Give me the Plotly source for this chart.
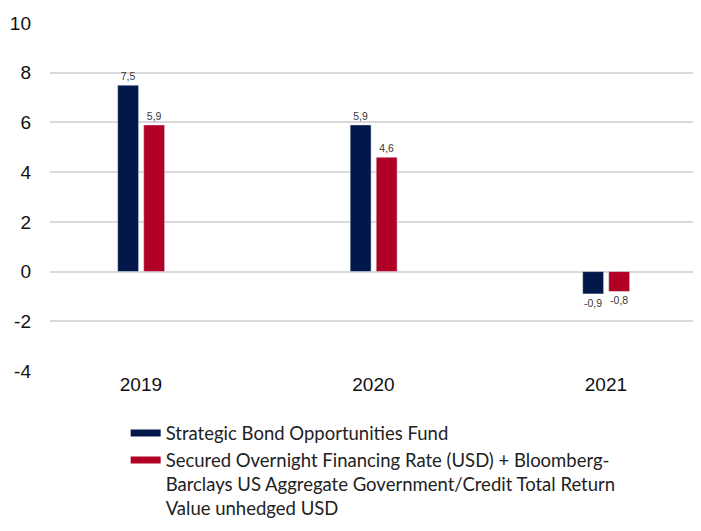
import plotly.graph_objects as go

years = ["2019", "2020", "2021"]
fund = [7.5, 5.9, -0.9]
bench = [5.9, 4.6, -0.8]
names = [
    "Strategic Bond Opportunities Fund",
    "Secured Overnight Financing Rate (USD) + Bloomberg-<br>Barclays US Aggregate Government/Credit Total Return<br>Value unhedged USD",
]
colors = ["#03184A", "#B10026"]
y_ticks = [-4, -2, 0, 2, 4, 6, 8, 10]
y_ticktext = ["-4", "-2", "0", "2", "4", "6", "8", "10"]

fig = go.Figure()
for vals, col, off in [(fund, colors[0], -0.1), (bench, colors[1], 0.012)]:
    fig.add_trace(go.Bar(
        x=years, y=vals, marker_color=col, showlegend=False,
        width=0.09, offset=off, texttemplate="%{y:.1f}", textposition="outside",
        textfont=dict(size=10.5, color="#383838", family="Liberation Sans"),
        cliponaxis=False,
    ))
# legend entries (line-shaped keys)
for nm, col in zip(names, colors):
    fig.add_trace(go.Scatter(
        x=[None], y=[None], mode="lines", name=nm,
        line=dict(color=col, width=7),
    ))

fig.update_layout(
    width=701, height=531,
    margin=dict(l=42, r=1, t=15, b=168, autoexpand=False),
    paper_bgcolor="white", plot_bgcolor="white",
    separators=",.",
    showlegend=True,
    legend=dict(
        x=0.115, xanchor="left", y=-0.125, yanchor="top",
        font=dict(family="Lato", size=18.5, color="#222222"),
        valign="top", tracegroupgap=6, itemwidth=30,
        bgcolor="rgba(0,0,0,0)",
    ),
)
fig.update_xaxes(
    type="category", range=[-0.391, 2.439],
    showgrid=False, showline=False, ticks="",
    tickfont=dict(family="Liberation Sans", size=19, color="#111111"),
)
fig.update_yaxes(
    range=[-4, 10], tickvals=y_ticks, ticktext=y_ticktext,
    showgrid=True, gridcolor="#D9D9D9", gridwidth=2,
    zeroline=False, showline=False,
    tickfont=dict(family="Liberation Sans", size=19, color="#111111"),
    ticklabelstandoff=18,
)

fig.write_html("out.html")
